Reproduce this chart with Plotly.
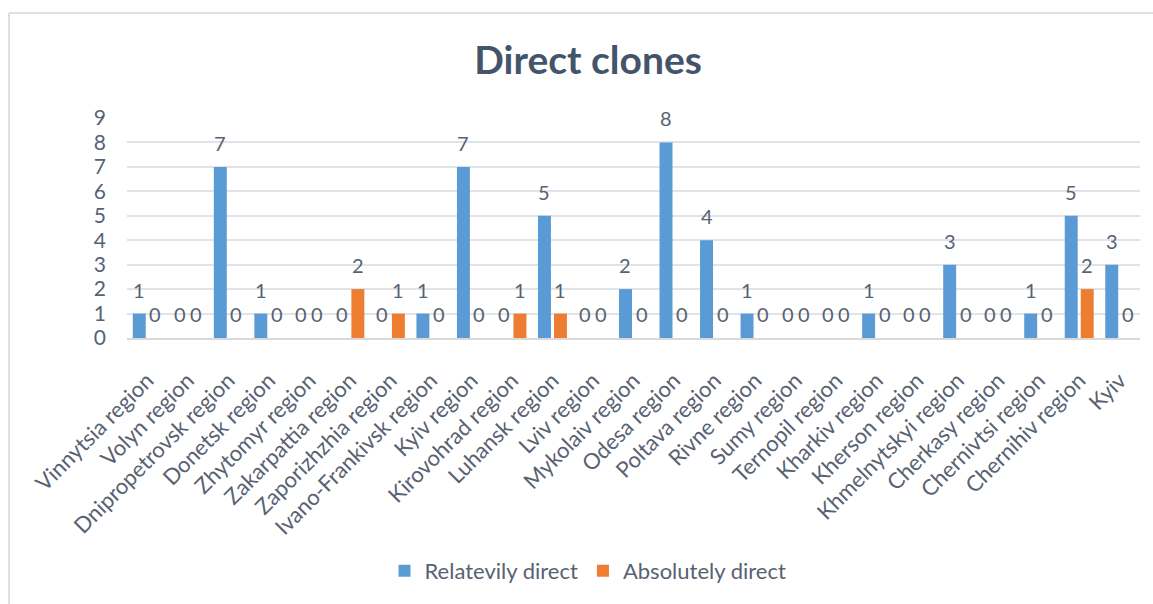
import plotly.graph_objects as go

# Clone counts per region
regions = [
    "Vinnytsia region", "Volyn region", "Dnipropetrovsk region", "Donetsk region",
    "Zhytomyr region", "Zakarpattia region", "Zaporizhzhia region",
    "Ivano-Frankivsk region", "Kyiv region", "Kirovohrad region", "Luhansk region",
    "Lviv region", "Mykolaiv region", "Odesa region", "Poltava region",
    "Rivne region", "Sumy region", "Ternopil region", "Kharkiv region",
    "Kherson region", "Khmelnytskyi region", "Cherkasy region",
    "Chernivtsi region", "Chernihiv region", "Kyiv",
]
relatively_direct = [1, 0, 7, 1, 0, 0, 0, 1, 7, 0, 5, 0, 2, 8, 4, 1, 0, 0, 1, 0, 3, 0, 1, 5, 3]
absolutely_direct = [0, 0, 0, 0, 0, 2, 1, 0, 0, 1, 1, 0, 0, 0, 0, 0, 0, 0, 0, 0, 0, 0, 0, 2, 0]
y_ticks = [0, 1, 2, 3, 4, 5, 6, 7, 8, 9]

FONT = "Lato, 'Open Sans', sans-serif"
TEXT = "#586272"
W, H = 1153, 604
ML, MR, MT, MB = 127, 13, 118, 266
PW, PH = W - ML - MR, H - MT - MB

BARGAP, GROUPGAP = 0.21, 0.19
series = [
    ("Relatevily direct", relatively_direct, "#5B9BD5"),
    ("Absolutely direct", absolutely_direct, "#ED7D31"),
]

fig = go.Figure()
for name, vals, color in series:
    fig.add_trace(go.Bar(
        x=regions, y=vals, name=name,
        marker=dict(color=color, line=dict(width=0)),
    ))

# Value labels above each bar, offset to the bar's slot within its group
cat_px = PW / len(regions)
slot_px = cat_px * (1 - BARGAP) / len(series)
annotations = []
for i, (_, vals, _) in enumerate(series):
    dx = (i - (len(series) - 1) / 2) * slot_px
    for region, v in zip(regions, vals):
        annotations.append(dict(
            x=region, y=v, xref="x", yref="y", text=str(v), showarrow=False,
            xshift=dx, yshift=24, yanchor="middle", xanchor="center",
            font=dict(family=FONT, size=20, color=TEXT),
        ))

fig.update_layout(
    width=W, height=H, autosize=False,
    template="none",
    paper_bgcolor="white", plot_bgcolor="white",
    margin=dict(l=ML, r=MR, t=MT, b=MB, autoexpand=False),
    barmode="group", bargap=BARGAP, bargroupgap=GROUPGAP,
    font=dict(family=FONT, color=TEXT, size=20),
    title=dict(
        text="<b>Direct clones</b>", xref="container", yref="container",
        x=0.51, xanchor="center", y=1 - 60 / H, yanchor="middle",
        font=dict(family=FONT, size=39, color="#44546A"),
    ),
    legend=dict(
        orientation="h", xref="container", yref="container",
        x=0.51, xanchor="center", y=1 - 571 / H, yanchor="middle",
        font=dict(family=FONT, size=22, color=TEXT),
        itemwidth=30, tracegroupgap=0,
    ),
    xaxis=dict(
        type="category", tickangle=-45, automargin=False,
        showgrid=False, zeroline=False, showline=True,
        linecolor="#D9D9D9", linewidth=2,
        ticks="", ticklabelstandoff=19,
        tickfont=dict(family=FONT, size=22, color=TEXT),
    ),
    yaxis=dict(
        range=[0, 9], tickvals=y_ticks, automargin=False,
        showgrid=True, gridcolor="#E0E3E8", gridwidth=2,
        zeroline=False, showline=False, ticks="",
        ticklabelstandoff=20,
        tickfont=dict(family=FONT, size=21, color=TEXT),
    ),
    annotations=annotations,
)

# Chart frame (top and left edges)
top = 1 + (MT - 13) / PH
left = (9 - ML) / PW
fig.add_shape(type="line", xref="paper", yref="paper",
              x0=left, x1=(W - ML) / PW, y0=top, y1=top,
              line=dict(color="#DDE1E6", width=2))
fig.add_shape(type="line", xref="paper", yref="paper",
              x0=left, x1=left, y0=-MB / PH, y1=top,
              line=dict(color="#DDE1E6", width=2))

fig.write_html("out.html")
